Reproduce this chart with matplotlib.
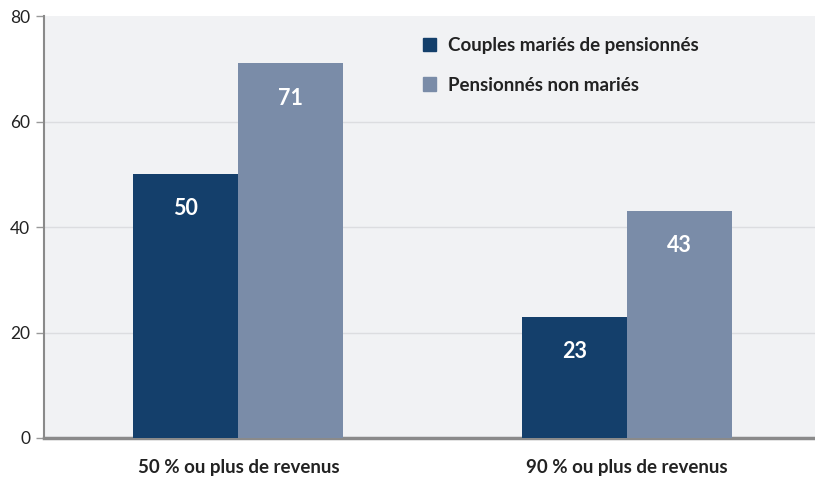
import matplotlib.pyplot as plt
from matplotlib.patches import Patch

# Data
categories = ["50 % ou plus de revenus", "90 % ou plus de revenus"]
series_names = ["Couples mariés de pensionnés", "Pensionnés non mariés"]
couples = [50, 23]
non_maries = [71, 43]
yticks = [0, 20, 40, 60, 80]


def main():
    plt.rcParams['font.family'] = ['Lato', 'DejaVu Sans']
    dark = "#143f6b"
    light = "#7a8ca8"
    width = 0.27

    fig = plt.figure(figsize=(8.15, 4.79), dpi=100)
    ax = fig.add_axes([44 / 815, 1 - 438 / 479, 1 - 44 / 815, (438 - 16) / 479])
    ax.set_facecolor("#f1f2f4")

    x = list(range(len(categories)))
    b1 = ax.bar([i - width / 2 for i in x], couples, width, color=dark, zorder=3)
    b2 = ax.bar([i + width / 2 for i in x], non_maries, width, color=light, zorder=3)

    # value labels inside the bars
    for bars, vals in ((b1, couples), (b2, non_maries)):
        for bar, v in zip(bars, vals):
            ax.annotate(str(v), (bar.get_x() + bar.get_width() / 2, v),
                        xytext=(0, -25), textcoords="offset points",
                        ha="center", va="center", color="white",
                        fontsize=15.5, fontweight="bold", zorder=4)

    ax.set_xlim(-0.5, 1.483)
    ax.set_ylim(0, 80)
    ax.set_yticks(yticks)
    ax.set_yticklabels([str(t) for t in yticks], fontsize=12.5, color="#222222")
    ax.tick_params(axis="y", length=6, width=1, color="#999999", pad=4)
    ax.set_xticks(x)
    ax.set_xticklabels(categories, fontsize=13.5, fontweight="bold", color="#222222")
    ax.tick_params(axis="x", length=0, pad=15)

    for t in yticks[1:-1]:
        ax.axhline(t, color="#dcdde0", lw=1, zorder=1)

    for s in ("top", "right"):
        ax.spines[s].set_visible(False)
    ax.spines["left"].set_color("#8a8a8a")
    ax.spines["left"].set_linewidth(1.5)
    ax.spines["bottom"].set_color("#8a8a8a")
    ax.spines["bottom"].set_linewidth(2.5)

    handles = [Patch(color=dark), Patch(color=light)]
    leg = ax.legend(handles, series_names, loc="upper left",
                    bbox_to_anchor=(0.47, 0.99), frameon=False,
                    handlelength=0.7, handleheight=0.7, handletextpad=0.6,
                    labelspacing=1.2, prop={"size": 13.5, "weight": "bold"})
    for txt in leg.get_texts():
        txt.set_color("#222222")

    fig.savefig("out.png", dpi=100)


if __name__ == "__main__":
    main()
